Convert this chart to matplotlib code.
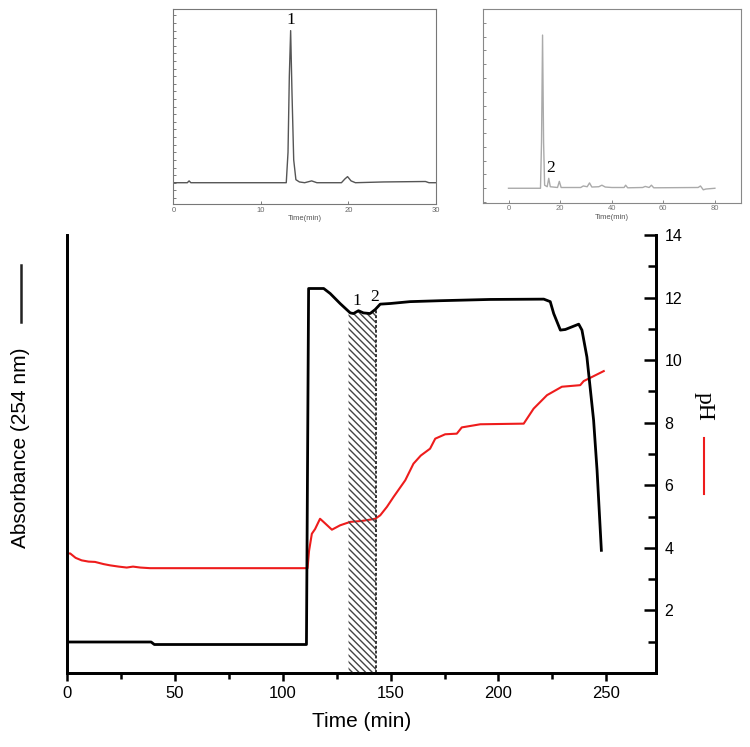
import numpy as np
import matplotlib
matplotlib.use("Agg")
import matplotlib.pyplot as plt
from matplotlib.lines import Line2D
from matplotlib.ticker import MultipleLocator

plt.rcParams['font.family'] = ['Liberation Sans', 'DejaVu Sans']
plt.rcParams['hatch.linewidth'] = 1.0

# main trace: UV absorbance (arbitrary units, no scale shown)
t_abs = [0, 39, 40.5, 111.0, 112.0, 113.5, 119, 122, 126.6, 131.3, 132.8, 135.1,
         137.4, 140.5, 142.9, 145.2, 149.8, 159, 173, 196, 221, 224, 225.6,
         228.7, 231, 237.2, 238.7, 241, 244.1, 245.7, 247.7]
absorb = [0.99, 0.99, 0.91, 0.91, 12.29, 12.29, 12.29, 12.13, 11.81, 11.51, 11.49,
          11.58, 11.51, 11.49, 11.62, 11.79, 11.81, 11.87, 11.9, 11.94, 11.95,
          11.87, 11.49, 10.96, 10.98, 11.15, 10.96, 10.1, 8.08, 6.48, 3.92]

# pH trace
t_ph = [0, 1.5, 4, 6.8, 10, 13, 17, 20, 24, 27.7, 30.6, 34, 38.5, 60, 90, 111.5,
        112.2, 113.5, 115, 117.3, 118.9, 122.8, 126.6, 131.3, 136.7, 142.9, 145.2,
        148.3, 151.4, 156.8, 160.6, 164, 168.3, 170.7, 175.3, 180.7, 183, 191.6,
        211.7, 216.3, 222.5, 229.4, 237.9, 239.5, 248.8]
ph = [3.82, 3.82, 3.68, 3.6, 3.56, 3.55, 3.48, 3.44, 3.4, 3.37, 3.4, 3.37, 3.35,
      3.35, 3.35, 3.35, 3.9, 4.45, 4.6, 4.93, 4.83, 4.58, 4.72, 4.83, 4.86, 4.93,
      5.04, 5.31, 5.63, 6.16, 6.69, 6.95, 7.17, 7.49, 7.63, 7.65, 7.85, 7.95,
      7.97, 8.45, 8.88, 9.15, 9.2, 9.33, 9.65]

# collected fraction window (min)
frac_start, frac_end = 130.5, 143.3

# inset chromatograms (normalised signal)
hplc1_t = [0, 1.6, 1.8, 2.0, 12.9, 13.1, 13.25, 13.4, 13.55, 13.75, 14.0, 14.4,
           15.0, 15.8, 16.4, 19.2, 19.6, 19.9, 20.3, 20.8, 24, 28.8, 29.2, 30]
hplc1_y = [0, 0, 0.012, 0, 0, 0.2, 0.7, 1.0, 0.6, 0.15, 0.02, 0.005, 0.0, 0.012,
           0.0, 0.0, 0.025, 0.04, 0.012, 0.0, 0.005, 0.008, 0.0, 0.0]
hplc2_t = [0, 12.4, 12.8, 13.2, 13.6, 14.0, 15.0, 15.6, 16.2, 19.0, 19.7, 20.4, 28,
           29, 30.5, 31.4, 32.3, 35, 36.2, 37.5, 40, 44.8, 45.4, 46.2, 52, 53,
           54.5, 55.4, 56.3, 73.5, 74.4, 75.5, 76.5, 80]
hplc2_y = [0, 0, 0.3, 1.0, 0.3, 0.02, 0.01, 0.065, 0.01, 0.005, 0.045, 0.005,
           0.005, 0.015, 0.01, 0.035, 0.008, 0.01, 0.02, 0.008, 0.005, 0.005, 0.02,
           0.003, 0.005, 0.012, 0.005, 0.02, 0.003, 0.005, 0.015, -0.01, -0.005, 0]

fig = plt.figure(figsize=(7.5, 7.47), dpi=100)

ax = fig.add_axes([0.0893, 0.0991, 0.7853, 0.5863])
ax2 = ax.twinx()
ax.set_zorder(ax2.get_zorder() + 1)
ax.patch.set_visible(False)

# hatched fraction
tt = np.linspace(frac_start, frac_end, 60)
top = np.interp(tt, t_abs, absorb)
ax.fill_between(tt, 0, top, facecolor='none', edgecolor='#444444',
                hatch='\\\\\\\\\\', linewidth=0, zorder=1)
ax.plot([frac_end, frac_end], [0, np.interp(frac_end, t_abs, absorb)],
        color='#333333', lw=1.4, ls=(0, (1.5, 1)), zorder=1)

ax.plot(t_abs, absorb, color='black', lw=2.0, zorder=3)
ax2.plot(t_ph, ph, color='#ee1c1c', lw=1.5)

ax.text(134.5, 11.65, '1', fontsize=12.5, family='Liberation Serif', ha='center', va='bottom')
ax.text(142.6, 11.75, '2', fontsize=12.5, family='Liberation Serif', ha='center', va='bottom')

ax.set_xlim(0, 273)
ax.set_ylim(0, 14)
ax2.set_ylim(0, 14)

ax.set_yticks([])
ax.xaxis.set_major_locator(MultipleLocator(50))
ax.xaxis.set_minor_locator(MultipleLocator(25))
ax.tick_params(axis='x', which='major', direction='out', length=6, width=1.8, labelsize=12)
ax.tick_params(axis='x', which='minor', direction='out', length=4, width=1.8)
ax2.yaxis.set_major_locator(MultipleLocator(2))
ax2.yaxis.set_minor_locator(MultipleLocator(1))
ax2.set_yticks([2, 4, 6, 8, 10, 12, 14])
ax2.tick_params(axis='y', which='major', direction='in', length=9, width=1.8, labelsize=11.5, pad=6)
ax2.tick_params(axis='y', which='minor', direction='in', length=6, width=1.8)

for a in (ax, ax2):
    a.spines['top'].set_visible(False)
    for s in ('left', 'right', 'bottom'):
        a.spines[s].set_linewidth(2)

ax.set_xlabel('Time (min)', fontsize=15, labelpad=8)

fig.text(0.028, 0.40, 'Absorbance (254 nm)', rotation=90, fontsize=15,
         ha='center', va='center')
fig.text(0.9384, 0.4556, 'pH', rotation=270, fontsize=17,
         family='Liberation Serif', ha='center', va='center')
fig.add_artist(Line2D([0.0276, 0.0276], [0.569, 0.6452], color='#222222', lw=1.8))
fig.add_artist(Line2D([0.9387, 0.9387], [0.3387, 0.4137], color='#ee1c1c', lw=1.5))

# insets
in1 = fig.add_axes([0.2311, 0.7269, 0.3502, 0.2606])
in1.plot(hplc1_t, hplc1_y, color='#555555', lw=1.0)
in1.set_xlim(0, 30)
in1.set_ylim(-0.14, 1.14)
in1.set_xticks([0, 10, 20, 30])
in1.yaxis.set_major_locator(MultipleLocator(0.05))
in1.set_yticklabels([])
in1.tick_params(direction='in', length=2, width=0.6, colors='#666666', labelsize=5.5, pad=2)
in1.set_xlabel('Time(min)', fontsize=5.5, color='#555555', labelpad=1)
in1.text(13.4, 1.02, '1', fontsize=12.5, family='Liberation Serif', ha='center', va='bottom')
for s in in1.spines.values():
    s.set_color('#777777')
    s.set_linewidth(0.8)

in2 = fig.add_axes([0.6436, 0.7287, 0.344, 0.2588])
in2.plot(hplc2_t, hplc2_y, color='#aaaaaa', lw=1.0)
in2.set_xlim(-10, 90)
in2.set_ylim(-0.094, 1.168)
in2.set_xticks([0, 20, 40, 60, 80])
in2.yaxis.set_major_locator(MultipleLocator(0.09))
in2.set_yticklabels([])
in2.tick_params(direction='in', length=2, width=0.6, colors='#777777', labelsize=5.5, pad=2)
in2.set_xlabel('Time(min)', fontsize=5.5, color='#555555', labelpad=1)
in2.text(16.5, 0.08, '2', fontsize=12.5, family='Liberation Serif', ha='center', va='bottom')
for s in in2.spines.values():
    s.set_color('#888888')
    s.set_linewidth(0.8)

fig.savefig('out.png', dpi=100)
